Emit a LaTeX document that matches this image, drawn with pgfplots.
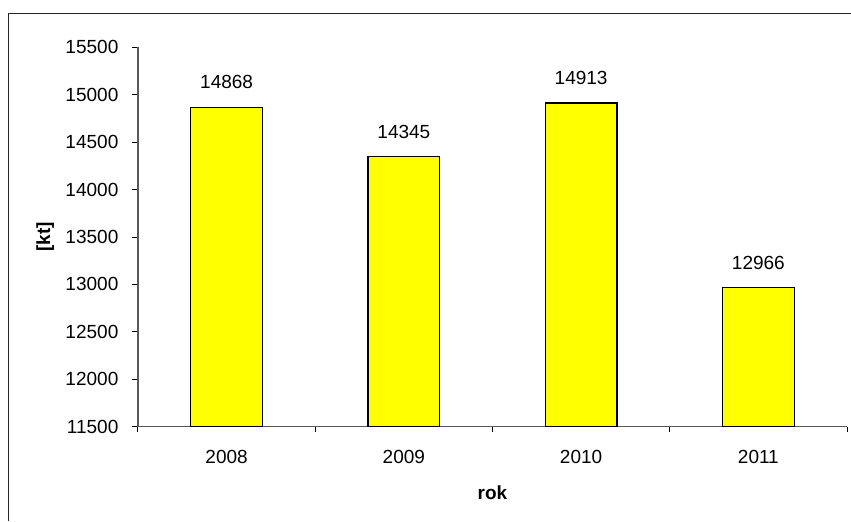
\documentclass[border=0pt]{standalone}
\usepackage{pgfplots}
\pgfplotsset{compat=1.18}
\usepackage{fontspec}
\setmainfont{Liberation Sans}
\definecolor{baryellow}{RGB}{255,255,0}
\begin{document}
\begin{tikzpicture}
\useasboundingbox (0,0) rectangle (425.5pt,260.5pt);
\fill[white] (0,0) rectangle (425.5pt,260.5pt);
\draw[line width=0.65pt, black!85] (4.35pt,0pt) -- (4.35pt,253.85pt) -- (425.5pt,253.85pt);
\begin{axis}[
  at={(69pt,47.15pt)}, anchor=south west,
  scale only axis, width=354.5pt, height=189.7pt,
  font=\fontsize{9.5pt}{11pt}\selectfont,
  /pgf/number format/assume math mode=true,
  /pgf/number format/1000 sep={},
  scaled y ticks=false,
  yticklabel style={/pgf/number format/fixed, xshift=-3.5pt},
  ymin=11500, ymax=15500, ytick distance=500,
  xmin=-0.5, xmax=3.5,
  axis x line*=bottom, axis y line*=left,
  axis line style={gray!70!black, line width=0.6pt},
  tick align=outside,
  major tick length=2.8pt,
  tick style={black, line width=0.5pt},
  xtick={-0.5,0.5,1.5,2.5,3.5}, xticklabels={},
  extra x ticks={0,1,2,3},
  extra x tick labels={2008,2009,2010,2011},
  extra x tick style={major tick length=0pt, xticklabel style={yshift=-8pt}},
  ybar, bar width=35.85pt,
  bar shift=0pt,
  nodes near coords,
  nodes near coords style={anchor=south, yshift=5.4pt, font=\fontsize{9.5pt}{11pt}\selectfont, /pgf/number format/assume math mode=true, /pgf/number format/1000 sep={}},
  xlabel={\textbf{rok}}, ylabel={\textbf{[kt]}},
  xlabel style={at={(axis description cs:0.5,-0.175)}, anchor=center},
  ylabel style={at={(axis description cs:-0.131,0.5)}, anchor=center},
]
\addplot[fill=baryellow, draw=black, line width=0.6pt] coordinates {(0,14868) (1,14345) (2,14913) (3,12966)};
\end{axis}
\end{tikzpicture}
\end{document}
